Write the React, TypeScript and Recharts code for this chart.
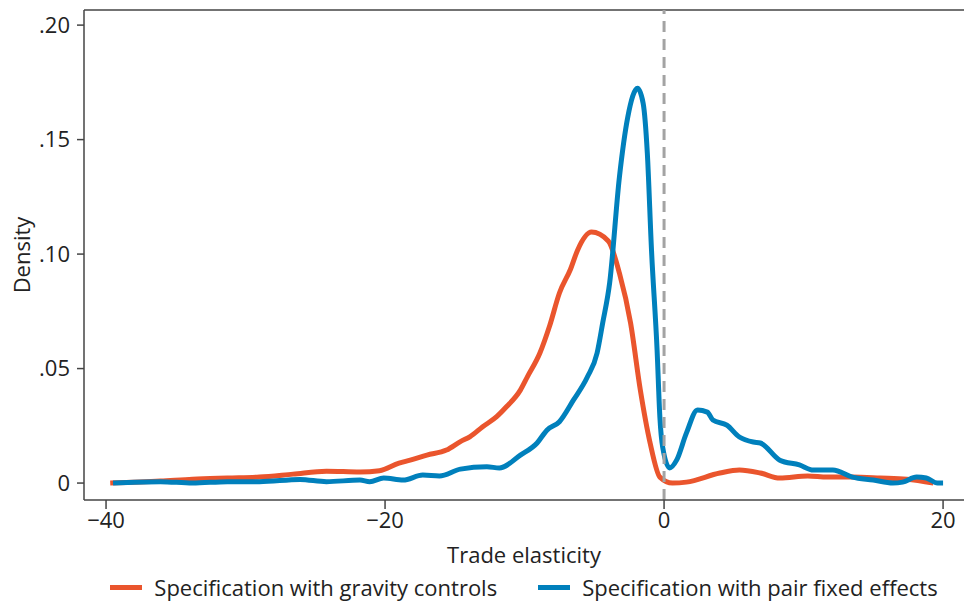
import React from "react";
import {
  LineChart,
  Line,
  XAxis,
  YAxis,
  ReferenceLine,
  Legend,
} from "recharts";

const ORANGE = "#EA552D";
const BLUE = "#0080BC";
const FONT = "'Open Sans', Lato, sans-serif";
const FS = 22;

// gravity controls (x = trade elasticity, y = density)
const gravityX = [
  -39.7, -36.1, -33.8, -31.3, -29.0, -26.6, -24.2, -21.8, -20.4, -19.0, -18.2, -17.0,
  -15.6, -14.6, -13.9, -13.0, -12.0, -11.3, -10.3, -9.8, -8.9, -8.2, -7.5, -6.7, -6.2,
  -5.2, -4.0, -3.2, -2.4, -1.7, -1.0, -0.3, 0.6, 1.6, 4.0, 5.4, 6.9, 8.3, 10.3, 11.7,
  13.5, 15.5, 17.4, 19.3,
];
const gravityY = [
  0.0, 0.0009, 0.0017, 0.0022, 0.0026, 0.0039, 0.0052, 0.0048, 0.0054, 0.0087, 0.01,
  0.0122, 0.0144, 0.0181, 0.0203, 0.0246, 0.029, 0.0333, 0.0406, 0.0464, 0.0568, 0.0687,
  0.083, 0.0935, 0.1017, 0.1096, 0.1057, 0.0917, 0.0699, 0.0406, 0.0175, 0.0026, 0.0,
  0.0004, 0.0044, 0.0057, 0.0044, 0.0022, 0.0031, 0.0026, 0.0026, 0.0022, 0.0017, 0.0,
];

// pair fixed effects
const pairX = [
  -39.5, -36.1, -33.8, -31.3, -29.0, -26.1, -24.2, -21.8, -21.1, -20.1, -18.7, -17.3,
  -16.1, -14.6, -12.7, -11.8, -10.3, -9.1, -8.4, -7.5, -6.5, -5.5, -4.8, -4.4, -3.9,
  -3.2, -2.6, -1.9, -1.5, -1.2, -0.9, -0.5, -0.3, -0.1, 0.4, 0.9, 1.6, 2.4, 3.1, 3.5,
  4.5, 5.4, 6.4, 6.9, 8.3, 9.7, 10.7, 12.1, 13.5, 15.0, 16.4, 17.1, 18.1, 18.8, 19.6, 20.0,
];
const pairY = [
  0.0, 0.0006, 0.0, 0.0006, 0.0006, 0.0016, 0.0006, 0.0013, 0.0006, 0.0022, 0.0013,
  0.0035, 0.0031, 0.0061, 0.0071, 0.0066, 0.0122, 0.0175, 0.0231, 0.0268, 0.0362, 0.0463,
  0.0568, 0.0699, 0.0874, 0.1337, 0.1599, 0.1724, 0.1659, 0.1441, 0.1017, 0.0581, 0.0288,
  0.0157, 0.0066, 0.01, 0.0218, 0.0319, 0.031, 0.0275, 0.0253, 0.0201, 0.0179, 0.0175,
  0.01, 0.0079, 0.0057, 0.0057, 0.0026, 0.0013, 0.0, 0.0004, 0.0026, 0.0022, 0.0, 0.0,
];

const xTicks = [-40, -20, 0, 20];
const yTicks = [0, 0.05, 0.1, 0.15, 0.2];
const seriesNames = [
  "Specification with gravity controls",
  "Specification with pair fixed effects",
];

const X_DOMAIN: [number, number] = [-41.58, 21.5];
const Y_DOMAIN: [number, number] = [-0.0074, 0.2066];

const gravityData = gravityX.map((x, i) => ({ x, y: gravityY[i] }));
const pairData = pairX.map((x, i) => ({ x, y: pairY[i] }));

function fmtY(v: number) {
  if (v === 0) return "0";
  return v.toFixed(2).replace(/^0/, "");
}

function fmtX(v: number) {
  return v < 0 ? `\u2212${Math.abs(v)}` : String(v);
}

function LegendContent() {
  const items = [
    { name: seriesNames[0], color: ORANGE },
    { name: seriesNames[1], color: BLUE },
  ];
  return (
    <div
      style={{
        display: "flex",
        justifyContent: "center",
        alignItems: "center",
        paddingLeft: 84,
        paddingTop: 6,
        gap: 41,
        fontFamily: FONT,
        fontSize: FS,
        color: "#222",
      }}
    >
      {items.map((it) => (
        <div key={it.name} style={{ display: "flex", alignItems: "center" }}>
          <span
            style={{
              display: "inline-block",
              width: 32,
              height: 5,
              background: it.color,
              marginRight: 12,
            }}
          />
          <span>{it.name}</span>
        </div>
      ))}
    </div>
  );
}

export default function App() {
  return (
    <div style={{ position: "absolute", left: 0, top: 0, background: "#fff" }}>
      <LineChart
        width={964}
        height={606}
        margin={{ top: 10, right: 0, left: 0, bottom: 0 }}
        style={{ fontFamily: FONT }}
      >
        <XAxis
          type="number"
          dataKey="x"
          domain={X_DOMAIN}
          allowDataOverflow
          ticks={xTicks}
          tickFormatter={fmtX}
          height={66}
          tickSize={9}
          tickMargin={3}
          tick={{ fill: "#222", fontSize: FS }}
          axisLine={{ stroke: "#444", strokeWidth: 1.5 }}
          tickLine={{ stroke: "#444", strokeWidth: 1.5 }}
          label={{
            value: "Trade elasticity",
            position: "insideBottom",
            offset: 3,
            fill: "#222",
            fontSize: FS,
          }}
        />
        <YAxis
          type="number"
          dataKey="y"
          domain={Y_DOMAIN}
          allowDataOverflow
          ticks={yTicks}
          tickFormatter={fmtY}
          width={84}
          tickSize={7}
          tickMargin={7}
          tick={{ fill: "#222", fontSize: FS }}
          axisLine={{ stroke: "#444", strokeWidth: 1.5 }}
          tickLine={{ stroke: "#444", strokeWidth: 1.5 }}
          label={{
            content: () => (
              <text
                x={21}
                y={255}
                transform="rotate(-90 21 255)"
                textAnchor="middle"
                dominantBaseline="central"
                fill="#222"
                fontSize={FS}
                fontFamily={FONT}
              >
                Density
              </text>
            ),
          }}
        />
        <ReferenceLine y={Y_DOMAIN[1]} stroke="#444" strokeWidth={1.5} />
        <Line
          data={gravityData}
          dataKey="y"
          name={seriesNames[0]}
          type="monotone"
          stroke={ORANGE}
          strokeWidth={5}
          dot={false}
          isAnimationActive={false}
        />
        <Line
          data={pairData}
          dataKey="y"
          name={seriesNames[1]}
          type="monotone"
          stroke={BLUE}
          strokeWidth={5}
          dot={false}
          isAnimationActive={false}
        />
        <ReferenceLine
          x={0}
          stroke="#A3A3A3"
          strokeWidth={3}
          strokeDasharray="11 7"
        />
        <Legend
          verticalAlign="bottom"
          height={40}
          wrapperStyle={{ left: 0, width: 964 }}
          content={() => <LegendContent />}
        />
      </LineChart>
    </div>
  );
}
